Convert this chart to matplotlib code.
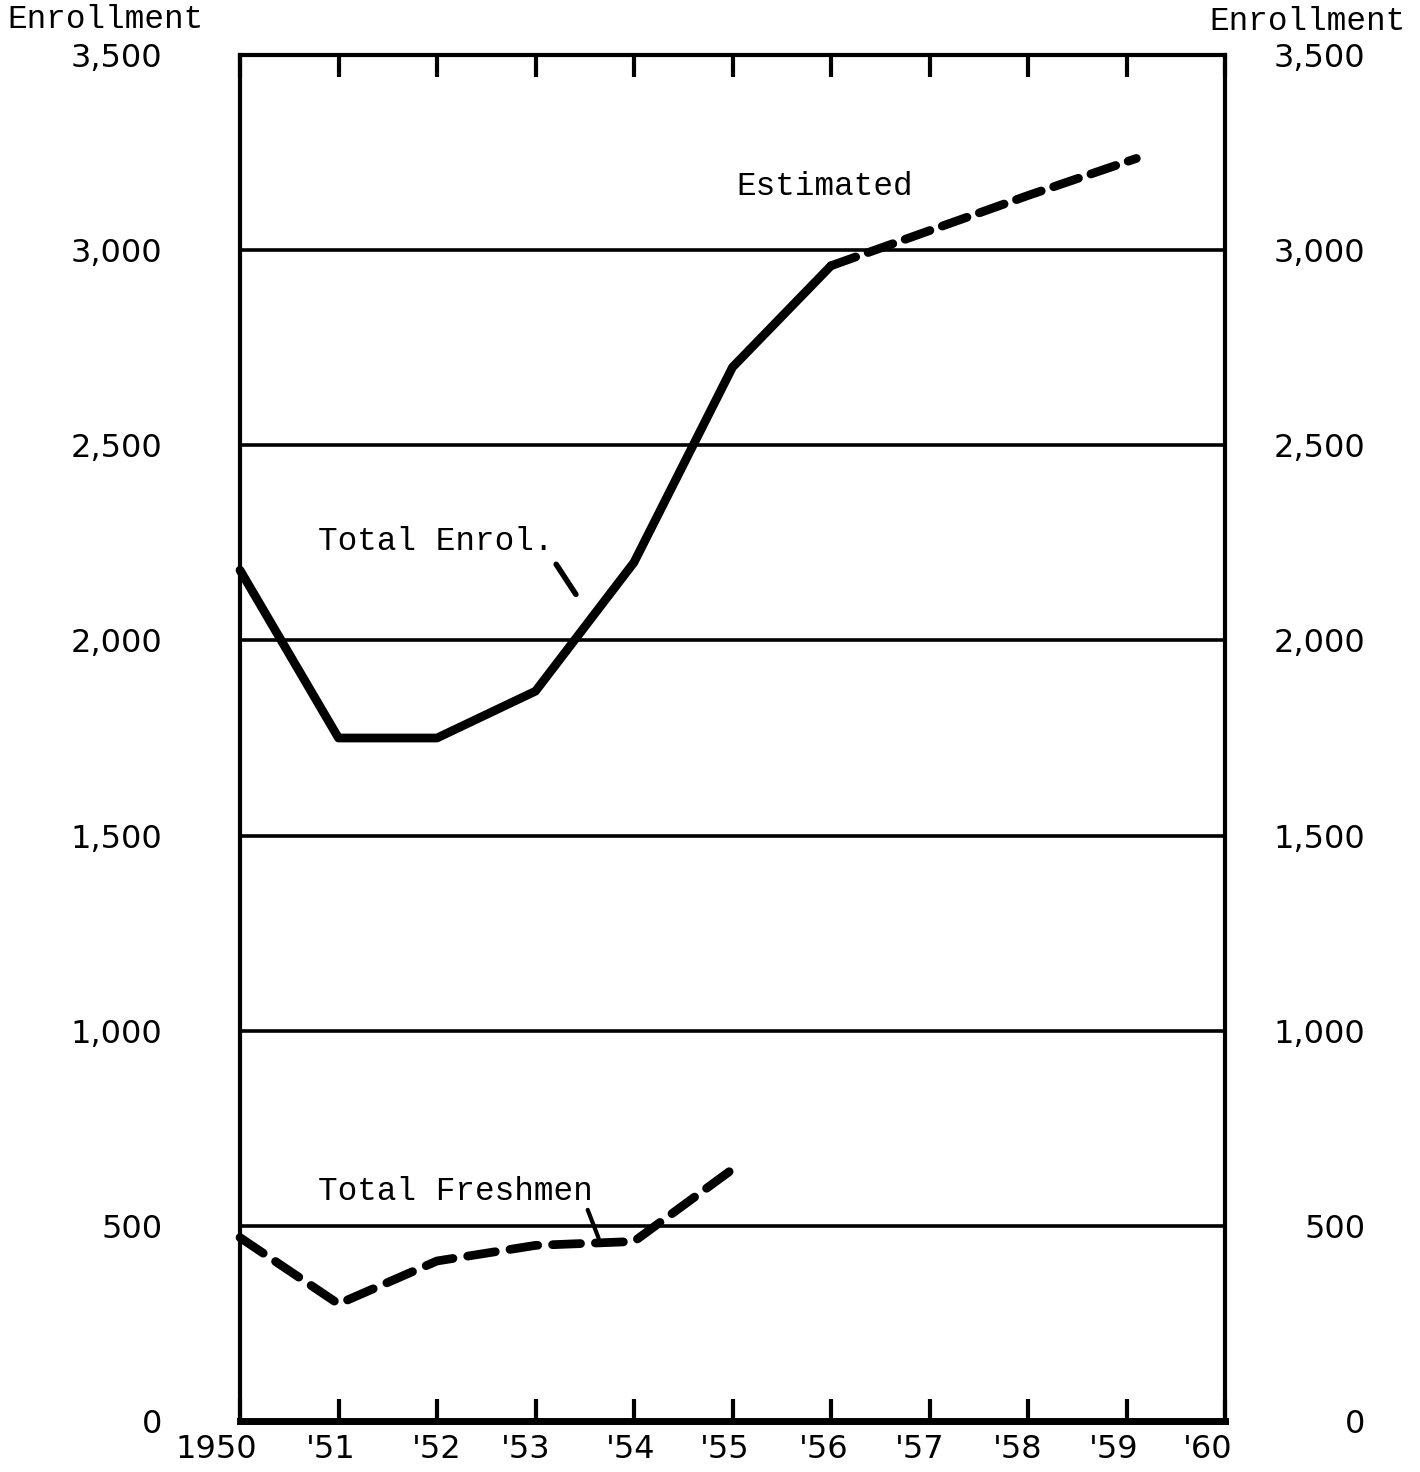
import matplotlib
matplotlib.use("Agg")
import matplotlib.pyplot as plt
import matplotlib.transforms as mtransforms

years = [1950, 1951, 1952, 1953, 1954, 1955, 1956, 1957, 1958, 1959, 1960]
year_labels = ["1950", "'51", "'52", "'53", "'54", "'55", "'56", "'57", "'58", "'59", "'60"]

total_years = [1950, 1951, 1952, 1953, 1954, 1955, 1956]
total_enrol = [2180, 1750, 1750, 1870, 2200, 2700, 2960]

est_years = [1956, 1957, 1958, 1959.1]
est_enrol = [2960, 3050, 3140, 3235]

fresh_years = [1950, 1951, 1952, 1953, 1954, 1955]
fresh_enrol = [470, 300, 410, 450, 460, 645]

y_ticks = [0, 500, 1000, 1500, 2000, 2500, 3000, 3500]
y_labels = ["0", "500", "1,000", "1,500", "2,000", "2,500", "3,000", "3,500"]

mono = "Liberation Mono"
sans = "DejaVu Sans"
tsize = 23.5
nsize = 23

fig = plt.figure(figsize=(14.2, 14.72), dpi=100)
ax = fig.add_axes([240 / 1420, 1 - 1421 / 1472, 985 / 1420, 1366 / 1472])
ax.set_xlim(1950, 1960)
ax.set_ylim(0, 3500)

# grid lines
for v in y_ticks[1:-1]:
    ax.axhline(v, color="black", lw=2.6, zorder=1)

# lines
ax.plot(total_years, total_enrol, color="black", lw=6.3, solid_capstyle="round",
        solid_joinstyle="round", zorder=3, clip_on=False)
ax.plot(est_years, est_enrol, color="black", lw=6.3, dashes=(3.0, 1.5),
        dash_capstyle="round", zorder=3, clip_on=False)
ax.plot(fresh_years, fresh_enrol, color="black", lw=6.3, dashes=(3.2, 1.7),
        dash_capstyle="round", zorder=3, clip_on=False)

# annotations
ax.text(1950.79, 2254, "Total Enrol.", fontfamily=mono, fontsize=tsize, va="center", ha="left")
ax.plot([1953.21, 1953.41], [2195, 2118], color="black", lw=4, solid_capstyle="round")
ax.text(1950.79, 587, "Total Freshmen", fontfamily=mono, fontsize=tsize, va="center", ha="left")
ax.plot([1953.53, 1953.64], [541, 469], color="black", lw=3, solid_capstyle="round")
ax.text(1955.04, 3164, "Estimated", fontfamily=mono, fontsize=tsize, va="center", ha="left")

# spines
for s in ["left", "right", "top"]:
    ax.spines[s].set_linewidth(3)
ax.spines["bottom"].set_linewidth(5)

# x ticks
ax.set_xticks(years)
ax.set_xticklabels(year_labels, fontfamily=sans, fontsize=nsize)
ax.tick_params(axis="x", which="both", direction="in", length=16, width=3,
               top=True, bottom=True, pad=9)
offsets = [-24, -8, 0, -10, -3, -8, -7, -10, -10, -13, -17]
for lab, off in zip(ax.get_xticklabels(), offsets):
    lab.set_transform(lab.get_transform() + mtransforms.ScaledTranslation(off / 100, 0, fig.dpi_scale_trans))

# y ticks left
ax.set_yticks(y_ticks)
ax.set_yticklabels(y_labels, fontfamily=sans, fontsize=nsize)
ax.tick_params(axis="y", which="both", length=0, pad=56)

# right side labels
ax2 = ax.twinx()
ax2.set_ylim(0, 3500)
ax2.set_yticks(y_ticks)
ax2.set_yticklabels(y_labels, fontfamily=sans, fontsize=nsize)
ax2.tick_params(axis="y", length=0, pad=101)
for lab in ax2.get_yticklabels():
    lab.set_horizontalalignment("right")
for s in ax2.spines.values():
    s.set_visible(False)

fig.text(106 / 1420, 1 - 20 / 1472, "Enrollment", fontfamily=mono, fontsize=tsize, ha="center", va="center")
fig.text(1308 / 1420, 1 - 22 / 1472, "Enrollment", fontfamily=mono, fontsize=tsize, ha="center", va="center")

fig.savefig("out.png", dpi=100, facecolor="white")
